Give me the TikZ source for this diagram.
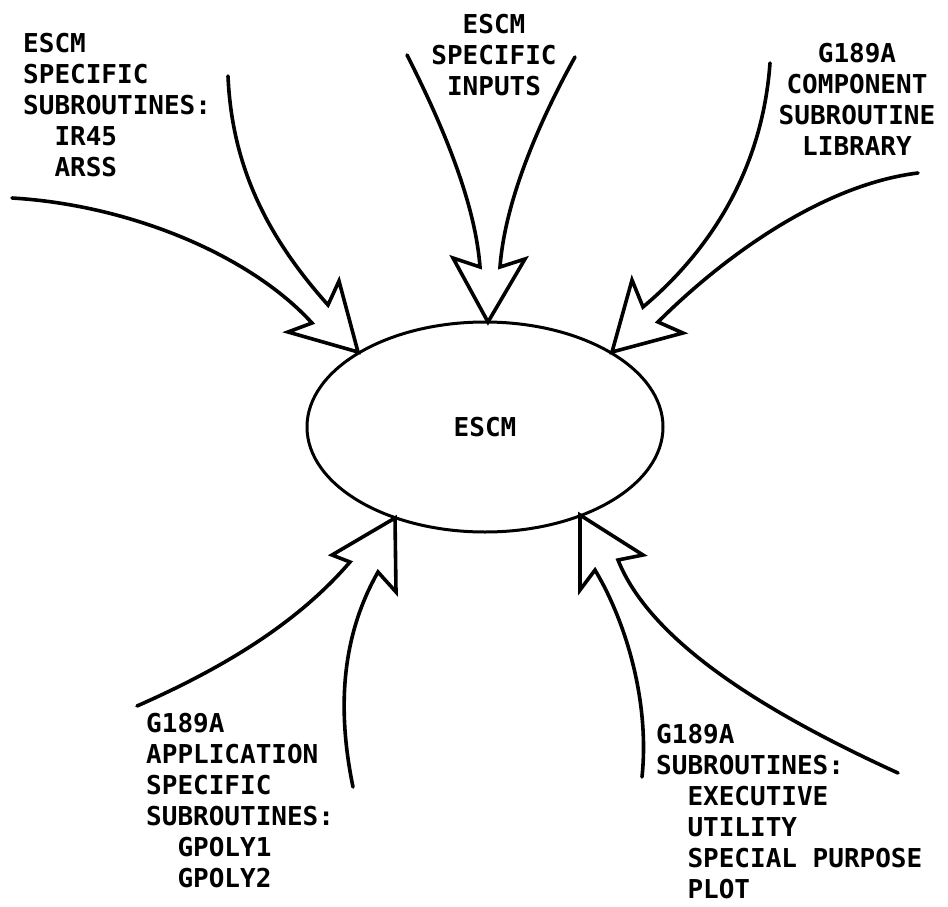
\documentclass[tikz,border=0pt]{standalone}
\usepackage{fontspec}
\newfontfamily\lblfont{DejaVu Sans Mono}
\usetikzlibrary{shapes.geometric}
\begin{document}
\begin{tikzpicture}[x=1pt,y=-1pt,
  lbl/.style={font=\lblfont\bfseries\fontsize{26}{31}\selectfont, inner sep=0pt},
  bigarrow/.style={line width=3.6pt, line join=miter, miter limit=6, line cap=round}]
\useasboundingbox (0,0) rectangle (948,907);
\node[ellipse, draw, line width=3pt, minimum width=356pt, minimum height=210pt, lbl] (escm) at (485,427) {ESCM};
% tips on the ellipse
\coordinate (t1) at (358,352);
\coordinate (t2) at (488,322);
\coordinate (t3) at (612,352);
\coordinate (t4) at (395,518);
\coordinate (t5) at (580,515);
% free ends of the shafts
\coordinate (a1) at (12,198);   \coordinate (b1) at (228,76);
\coordinate (a2) at (407,55);   \coordinate (b2) at (575,57);
\coordinate (a3) at (770,63);   \coordinate (b3) at (918,173);
\coordinate (a4) at (137,706);  \coordinate (b4) at (353,787);
\coordinate (a5) at (642,777);  \coordinate (b5) at (898,773);
% arrow 1 (upper left)
\draw[bigarrow] (a1) .. controls (130,205) and (250,255) .. (312,323) -- (288,332) -- (t1) -- (339,281) -- (328,305) .. controls (270,240) and (232,170) .. (b1);
% arrow 2 (top)
\draw[bigarrow] (a2) .. controls (440,120) and (475,200) .. (480,267) -- (453,258) -- (t2) -- (525,259) -- (500,267) .. controls (505,200) and (540,120) .. (b2);
% arrow 3 (upper right)
\draw[bigarrow] (a3) .. controls (762,175) and (705,255) .. (643,307) -- (632,280) -- (t3) -- (683,333) -- (658,322) .. controls (720,260) and (820,185) .. (b3);
% arrow 4 (lower left)
\draw[bigarrow] (a4) .. controls (230,665) and (300,620) .. (350,562) -- (332,555) -- (t4) -- (396,592) -- (378,572) .. controls (345,630) and (335,700) .. (b4);
% arrow 5 (lower right)
\draw[bigarrow] (a5) .. controls (650,700) and (625,620) .. (595,570) -- (580,590) -- (t5) -- (643,555) -- (618,560) .. controls (650,640) and (760,710) .. (b5);
% labels
\node[lbl, anchor=north west, align=left] (lab1) at (23,33) {ESCM\\SPECIFIC\\SUBROUTINES:\\\phantom{XX}IR45\\\phantom{XX}ARSS};
\node[lbl, anchor=north, align=center] (lab2) at (494,14) {ESCM\\SPECIFIC\\INPUTS};
\node[lbl, anchor=north, align=center] (lab3) at (857,43) {G189A\\COMPONENT\\SUBROUTINE\\LIBRARY};
\node[lbl, anchor=north west, align=left] (lab4) at (146,713) {G189A\\APPLICATION\\SPECIFIC\\SUBROUTINES:\\\phantom{XX}GPOLY1\\\phantom{XX}GPOLY2};
\node[lbl, anchor=north west, align=left] (lab5) at (656,724) {G189A\\SUBROUTINES:\\\phantom{XX}EXECUTIVE\\\phantom{XX}UTILITY\\\phantom{XX}SPECIAL PURPOSE\\\phantom{XX}PLOT};
\end{tikzpicture}
\end{document}
